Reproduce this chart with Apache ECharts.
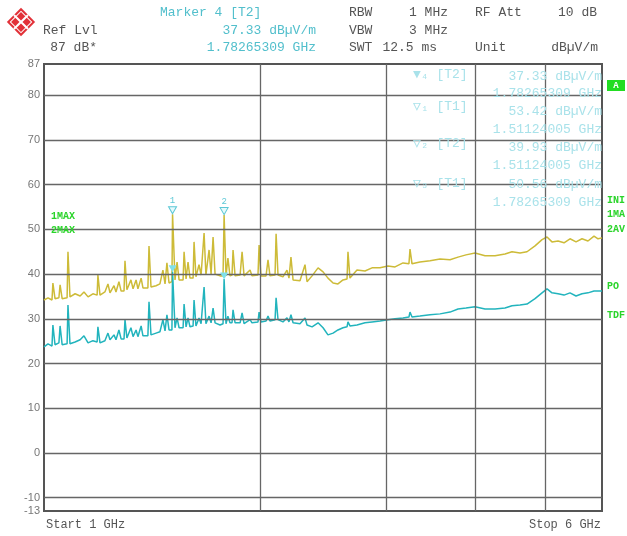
<!DOCTYPE html>
<html><head><meta charset="utf-8">
<script src="https://cdn.jsdelivr.net/npm/echarts@6/dist/echarts.min.js"></script>
<style>html,body{margin:0;padding:0;background:#fff}#c{width:627px;height:536px}</style>
</head><body><div id="c"></div><script>
// Frequency points (GHz), shared by both traces
const freqGHz = [
1.000,1.013,1.026,1.029,1.036,1.049,1.053,1.060,1.077,1.080,
1.087,1.105,1.123,1.137,1.152,1.170,1.186,1.189,1.197,1.216,
1.228,1.236,1.252,1.260,1.272,1.281,1.293,1.297,1.305,1.322,
1.331,1.344,1.352,1.366,1.374,1.396,1.401,1.410,1.433,1.451,
1.465,1.475,1.484,1.494,1.508,1.511,1.523,1.533,1.543,1.563,
1.568,1.578,1.588,1.598,1.614,1.619,1.629,1.645,1.656,1.666,
1.672,1.682,1.699,1.710,1.715,1.721,1.732,1.760,1.777,1.783,
1.794,1.805,1.817,1.829,1.835,1.847,1.877,1.889,1.901,1.938,
1.950,1.988,1.995,2.007,2.040,2.053,2.066,2.100,2.107,2.120,
2.154,2.182,2.196,2.210,2.225,2.275,2.312,2.327,2.365,2.411,
2.450,2.489,2.530,2.570,2.612,2.646,2.654,2.671,2.732,2.803,
2.867,2.942,3.018,3.087,3.167,3.228,3.239,3.260,3.344,3.454,
3.567,3.683,3.779,3.877,3.991,4.121,4.256,4.394,4.494,4.611,
4.716,4.839,4.949,5.029,5.110,5.210,5.311,5.414,5.520,5.627,
5.736,5.848,5.924,6.000];
// Trace 1 (1MAX, yellow) dBµV/m
const maxHold = [
34.2,34.7,34.2,38.0,34.5,34.7,37.6,34.5,34.7,45.0,
34.9,35.6,35.1,36.0,34.9,35.6,35.3,39.8,35.3,36.0,
37.8,35.8,37.4,36.0,38.3,36.2,36.2,43.0,36.5,38.7,
36.7,38.7,36.7,39.1,36.9,36.9,46.3,37.1,37.4,37.8,
40.9,37.8,42.5,38.0,38.3,53.4,38.7,42.7,38.7,38.7,
45.0,38.9,42.7,39.1,39.1,47.2,39.4,42.1,39.8,39.8,
49.2,39.8,45.4,40.0,40.0,48.3,40.0,39.6,39.6,53.2,
39.6,43.6,39.6,39.8,45.4,39.6,39.8,45.0,39.6,40.9,
39.6,39.8,46.5,39.6,39.6,43.2,39.6,39.8,49.0,39.8,
39.4,40.9,39.1,43.8,38.7,38.5,42.1,38.3,39.6,41.4,
40.5,39.1,38.0,37.8,38.7,38.9,45.0,39.1,40.9,40.7,
41.4,41.4,41.8,41.6,42.5,42.3,45.6,42.3,42.7,43.0,
43.4,43.2,43.8,44.3,44.7,44.1,44.1,44.5,45.0,44.7,
45.0,46.3,47.7,48.3,47.2,47.4,47.0,47.9,47.2,47.9,
47.4,48.5,47.9,48.1];
// Trace 2 (2MAX, cyan) dBµV/m
const average = [
23.7,24.4,23.9,28.6,24.2,24.6,28.4,24.2,24.4,33.1,
24.4,24.8,25.3,26.2,24.6,25.1,24.8,28.2,24.6,25.1,
26.8,25.3,26.4,25.3,27.5,25.5,25.5,29.8,25.7,28.0,
26.0,27.5,26.0,28.4,26.2,26.2,33.8,26.4,26.8,27.1,
29.8,27.3,30.9,27.5,27.5,40.5,28.0,30.2,28.0,28.0,
33.3,28.2,30.2,28.2,28.4,34.2,28.4,30.2,28.9,28.9,
37.1,28.9,30.6,29.1,29.1,32.4,29.1,28.6,28.9,38.9,
28.9,30.6,29.1,29.1,32.0,29.1,29.1,31.3,28.9,29.8,
29.1,29.3,31.5,29.3,29.5,30.6,29.5,29.8,34.7,29.8,
29.3,30.2,29.3,30.9,29.1,28.9,30.2,28.6,28.2,29.1,
28.0,26.4,26.8,27.5,28.0,28.2,29.3,28.4,28.6,29.1,
29.3,29.5,29.8,30.0,30.2,30.4,31.5,30.4,30.6,30.9,
31.1,31.5,32.2,32.4,32.7,32.2,32.2,32.4,32.9,33.1,
33.3,34.5,35.8,36.7,35.8,35.6,35.3,35.8,35.1,35.6,
35.8,36.2,36.2,36.2];
const yTickLabels = [-13,-10,0,10,20,30,40,50,60,70,80,87];
const hGridLevels = [-10,0,10,20,30,40,50,60,70,80];
const vGridGHz = [2,3,4,5];
const markerFreqs = [1.511, 1.783];
const markerNames = ['1','2'];

const chart = echarts.init(document.getElementById('c'), null, {renderer:'canvas'});
const yellow = '#cdbb38', cyan = '#22b4bd';
const mono = '"Liberation Mono", "DejaVu Sans Mono", monospace';
const tableCol = '#a9e2ea';
const green = '#2ad42a';
const mIdx = markerFreqs.map(f => freqGHz.indexOf(f));

function txt(x, y, s, color, align, size, font, weight) {
  return {type:'text', x:x, y:y, silent:true, z:100,
    style:{text:s, fill:color, font:(weight||'normal')+' '+(size||13)+'px '+(font||mono),
      textAlign:align||'left', textVerticalAlign:'middle'}};
}
const hdr = '#555';
const graphics = [
  // logo
  {type:'rect', x:21, y:22, rotation:Math.PI/4, shape:{x:-10,y:-10,width:20,height:20}, style:{fill:'#e23138'}},
  {type:'rect', x:21, y:22, rotation:Math.PI/4, shape:{x:-7.5,y:-7.5,width:15,height:15}, style:{fill:'none', stroke:'#fff', lineWidth:1}},
  {type:'line', x:21, y:22, rotation:Math.PI/4, shape:{x1:-10,y1:0,x2:10,y2:0}, style:{stroke:'#fff', lineWidth:2}},
  {type:'line', x:21, y:22, rotation:Math.PI/4, shape:{x1:0,y1:-10,x2:0,y2:10}, style:{stroke:'#fff', lineWidth:2}},
  txt(43,31,'Ref Lvl',hdr),
  txt(97,48,'87 dB*',hdr,'right'),
  txt(160,13,'Marker 4 [T2]','#52bfcc'),
  txt(316,31,'37.33 dBµV/m','#52bfcc','right'),
  txt(316,48,'1.78265309 GHz','#52bfcc','right'),
  txt(349,13,'RBW',hdr), txt(448,13,'1 MHz',hdr,'right'),
  txt(475,13,'RF Att',hdr), txt(597,13,'10 dB',hdr,'right'),
  txt(349,31,'VBW',hdr), txt(448,31,'3 MHz',hdr,'right'),
  txt(349,48,'SWT',hdr), txt(437,48,'12.5 ms',hdr,'right'),
  txt(475,48,'Unit',hdr), txt(598,48,'dBµV/m',hdr,'right'),
  // marker table
  txt(413,75,'▼₄ [T2]',tableCol), txt(602,77,'37.33 dBµV/m',tableCol,'right'),
  txt(602,94,'1.78265309 GHz',tableCol,'right'),
  txt(413,107,'▽₁ [T1]',tableCol), txt(602,112,'53.42 dBµV/m',tableCol,'right'),
  txt(602,130,'1.51124005 GHz',tableCol,'right'),
  txt(413,144,'▽₂ [T2]',tableCol), txt(602,148,'39.93 dBµV/m',tableCol,'right'),
  txt(602,166,'1.51124005 GHz',tableCol,'right'),
  txt(413,184,'▽₃ [T1]',tableCol), txt(602,185,'50.56 dBµV/m',tableCol,'right'),
  txt(602,203,'1.78265309 GHz',tableCol,'right'),
  // trace labels
  txt(51,216,'1MAX',green,'left',10,mono,'bold'),
  txt(51,230,'2MAX',green,'left',10,mono,'bold'),
  {type:'rect', shape:{x:607,y:80,width:18,height:11}, style:{fill:'#22dd22'}, z:100},
  txt(616,86,'A','#ffffff','center',9,mono,'bold'),
  txt(607,200,'INI',green,'left',10,mono,'bold'),
  txt(607,214,'1MA',green,'left',10,mono,'bold'),
  txt(607,229,'2AV',green,'left',10,mono,'bold'),
  txt(607,286,'PO',green,'left',10,mono,'bold'),
  txt(607,315,'TDF',green,'left',10,mono,'bold'),
  txt(46,525,'Start 1 GHz',hdr,'left',12),
  txt(601,525,'Stop 6 GHz',hdr,'right',12)
];

const option = {
  animation:false,
  backgroundColor:'#fff',
  grid:{left:44, right:25, top:64, bottom:25, show:true, borderColor:'#555', borderWidth:2, containLabel:false},
  xAxis:{type:'log', logBase:10, min:1, max:6,
    axisLine:{show:false}, axisTick:{show:false}, axisLabel:{show:false}, splitLine:{show:false}, minorSplitLine:{show:false}},
  yAxis:{type:'value', min:-13, max:87,
    axisLine:{show:true, onZero:false, lineStyle:{color:'#555', width:2}}, axisTick:{show:false},
    splitLine:{show:false},
    axisLabel:{customValues:yTickLabels, color:'#777', fontSize:11, fontFamily:'"Liberation Sans", Arial, sans-serif', margin:4}},
  graphic:graphics,
  series:[
    {type:'line', name:'grid', z:1, silent:true, showSymbol:false,
     data:freqGHz.map((f,i)=>[f,maxHold[i]]), lineStyle:{opacity:0},
     markLine:{silent:true, symbol:['none','none'], animation:false, label:{show:false},
       lineStyle:{color:'#666', width:1.3, type:'solid'},
       data:hGridLevels.map(v=>({yAxis:v})).concat(vGridGHz.map(v=>({xAxis:v})))}},
    {type:'line', name:'1MAX', z:3, showSymbol:false, symbol:'none',
     data:freqGHz.map((f,i)=>[f,maxHold[i]]), lineStyle:{color:yellow, width:1.5},
     markPoint:{symbol:'triangle', symbolRotate:180, symbolSize:[8,7], symbolOffset:[0,-4],
       itemStyle:{color:'#e6fafc', borderColor:'#5cc8d6', borderWidth:1},
       label:{show:true, position:'top', distance:1, color:'#5cc8d6', fontSize:9, fontFamily:mono},
       data:mIdx.map((i,k)=>({coord:[freqGHz[i],maxHold[i]], value:markerNames[k]}))}},
    {type:'line', name:'2MAX', z:4, showSymbol:false, symbol:'none',
     data:freqGHz.map((f,i)=>[f,average[i]]), lineStyle:{color:cyan, width:1.5},
     markPoint:{symbol:'triangle', symbolRotate:180, symbolSize:[8,7], symbolOffset:[0,-3],
       itemStyle:{color:'#7fe0ea'}, label:{show:false},
       data:mIdx.map(i=>({coord:[freqGHz[i],average[i]]}))}}
  ]
};
chart.setOption(option);
</script></body></html>
